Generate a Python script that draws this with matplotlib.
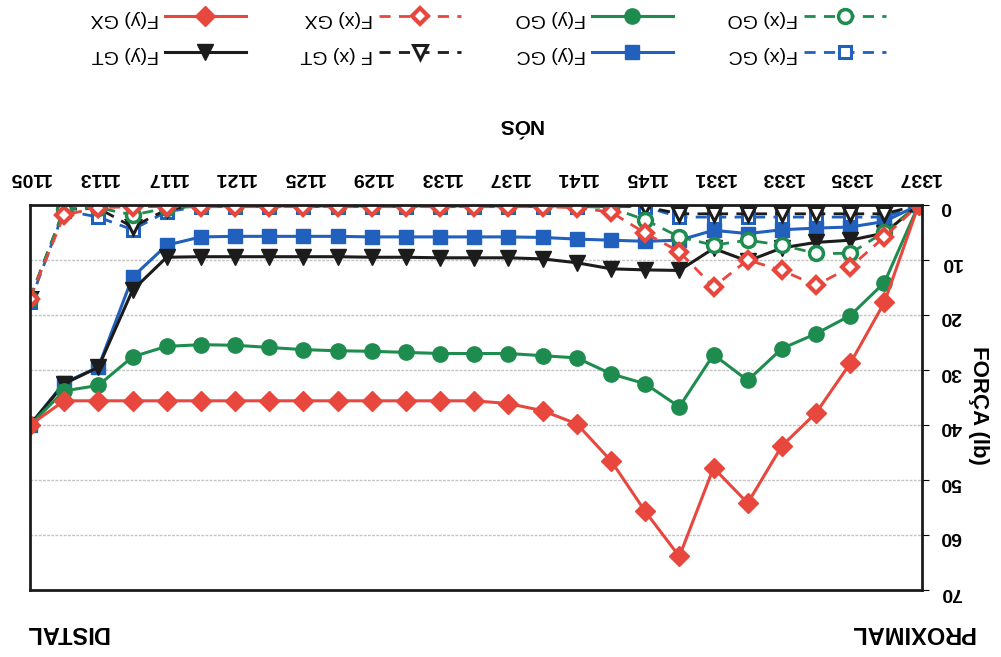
import numpy as np
import matplotlib
matplotlib.use("Agg")
import matplotlib.pyplot as plt

plt.rcParams['font.family'] = ['Liberation Sans', 'DejaVu Sans']

# nodes along the bar (only every other one is labelled)
nodes = ['1105', '1109', '1113', '1115', '1117', '1119', '1121', '1123', '1125',
         '1127', '1129', '1131', '1133', '1135', '1137', '1139', '1141', '1143',
         '1145', '1147', '1331', '1332', '1333', '1334', '1335', '1336', '1337']

fy_gx = [40, 35.6, 35.6, 35.6, 35.6, 35.6, 35.6, 35.6, 35.6, 35.6, 35.6, 35.6, 35.6,
         35.6, 36.1, 37.4, 39.8, 46.5, 55.7, 63.9, 47.8, 54.2, 43.8, 37.8, 28.8, 17.7, 0]
fx_gx = [17, 1.8, 0.5, 0.3, 0.3, 0.3, 0.3, 0.3, 0.3, 0.3, 0.3, 0.3, 0.3,
         0.3, 0.3, 0.3, 0.5, 1.3, 5.1, 8.5, 14.9, 10.0, 11.9, 14.6, 11.3, 5.8, 0]
fy_go = [40, 33.8, 32.8, 27.6, 25.7, 25.4, 25.5, 25.9, 26.3, 26.5, 26.6, 26.8, 27.0,
         27.0, 27.0, 27.4, 27.8, 30.7, 32.5, 36.7, 27.2, 31.9, 26.1, 23.4, 20.1, 14.1, 0]
fx_go = [17, 0.7, 0.5, 1.8, 0.6, 0.2, 0.2, 0.2, 0.2, 0.2, 0.2, 0.2, 0.2,
         0.2, 0.2, 0.2, 0.2, 0.5, 2.7, 5.8, 7.3, 6.4, 7.3, 8.8, 8.8, 4.9, 0]
fy_gc = [40, 32.3, 29.5, 13.1, 7.3, 5.8, 5.7, 5.7, 5.7, 5.7, 5.8, 5.8, 5.8,
         5.8, 5.8, 5.9, 6.2, 6.4, 6.6, 6.4, 4.6, 5.2, 4.5, 4.2, 4.0, 3.0, 0]
fx_gc = [17.7, 1.0, 2.2, 4.5, 1.2, 0.3, 0.3, 0.3, 0.3, 0.3, 0.3, 0.3, 0.3,
         0.3, 0.3, 0.3, 0.3, 0.3, 0.3, 2.2, 2.2, 2.2, 2.2, 2.2, 2.2, 2.2, 0]
fy_gt = [40, 32.5, 29.5, 15.5, 9.5, 9.4, 9.4, 9.4, 9.4, 9.4, 9.5, 9.5, 9.6,
         9.6, 9.6, 9.8, 10.5, 11.6, 11.8, 11.9, 7.9, 10.2, 7.8, 6.8, 6.4, 5.1, 0]
fx_gt = [17, 0.8, 0.6, 4.0, 0.8, 0, 0, 0, 0, 0, 0, 0, 0,
         0, 0, 0, 0, 0, 0.3, 1.6, 1.6, 1.6, 1.6, 1.6, 1.6, 1.6, 0]

RED = '#e8473d'
GREEN = '#1d8c4e'
BLUE = '#2160bd'
BLACK = '#1c1c1c'

x = np.arange(len(nodes))

fig = plt.figure(figsize=(10.01, 6.57), dpi=100)
ax = fig.add_axes([30 / 1001, 1 - 590 / 657, 892 / 1001, 385 / 657])

dash = (4, 3)
h = {}
h['fx_gc'], = ax.plot(x, fx_gc, color=BLUE, lw=2, dashes=dash, marker='s', ms=9,
                      mfc='white', mec=BLUE, mew=2.2, label='F(x) GC')
h['fy_gc'], = ax.plot(x, fy_gc, color=BLUE, lw=2.2, marker='s', ms=10,
                      mfc=BLUE, mec=BLUE, label='F(y) GC')
h['fx_gt'], = ax.plot(x, fx_gt, color=BLACK, lw=2, dashes=dash, marker='v', ms=10,
                      mfc='white', mec=BLACK, mew=2.2, label='F (x) GT')
h['fy_gt'], = ax.plot(x, fy_gt, color=BLACK, lw=2.2, marker='v', ms=11,
                      mfc=BLACK, mec=BLACK, label='F(y) GT')
h['fx_go'], = ax.plot(x, fx_go, color=GREEN, lw=2, dashes=dash, marker='o', ms=10,
                      mfc='white', mec=GREEN, mew=2.5, label='F(x) GO')
h['fy_go'], = ax.plot(x, fy_go, color=GREEN, lw=2.2, marker='o', ms=11,
                      mfc=GREEN, mec=GREEN, label='F(y) GO')
h['fx_gx'], = ax.plot(x, fx_gx, color=RED, lw=2, dashes=dash, marker='D', ms=8,
                      mfc='white', mec=RED, mew=3, label='F(x) GX')
h['fy_gx'], = ax.plot(x, fy_gx, color=RED, lw=2.2, marker='D', ms=10,
                      mfc=RED, mec=RED, label='F(y) GX')

ax.set_xlim(0, 26.1)
ax.set_ylim(70, 0)

# category axis on top, labels upside down
ax.xaxis.tick_top()
ax.set_xticks(x[::2])
ax.set_xticklabels(nodes[::2], rotation=180, fontsize=14, fontweight='bold')
ax.set_xticks(x, minor=True)
ax.tick_params(axis='x', which='both', direction='in', length=5, pad=14, color='#555555')

ax.yaxis.tick_right()
ax.set_yticks(np.arange(0, 71, 10))
ax.set_yticklabels([str(v) for v in range(0, 71, 10)], rotation=180,
                   fontsize=14, fontweight='bold')
ax.tick_params(axis='y', direction='out', length=5, pad=8)

ax.grid(axis='y', color='#c4c4c4', lw=1, ls=(0, (2, 1)))
for s in ax.spines.values():
    s.set_color(BLACK)
    s.set_linewidth(2)

ax.set_xlabel('NÓS', fontsize=15, fontweight='bold', rotation=180)
ax.xaxis.set_label_position('top')
ax.xaxis.set_label_coords((520 - 30) / 892, (590 - 130) / 385)

ax.set_ylabel('FORÇA (lb)', fontsize=16, fontweight='bold', rotation=270, va='center')
ax.yaxis.set_label_position('right')
ax.yaxis.set_label_coords((989 - 30) / 892, (590 - 405) / 385)

order = ['fy_gx', 'fy_gt', 'fx_gx', 'fx_gt', 'fy_go', 'fy_gc', 'fx_go', 'fx_gc']
leg = fig.legend([h[k] for k in order], [h[k].get_label() for k in order],
                 ncol=4, loc='center', bbox_to_anchor=(488 / 1001, 1 - 36 / 657),
                 frameon=False, markerfirst=False, fontsize=14,
                 handlelength=4.2, handletextpad=0.3, columnspacing=2.8,
                 labelspacing=0.95)
for t in leg.get_texts():
    t.set_rotation(180)

fig.text(912 / 1001, 1 - 632 / 657, 'PROXIMAL', rotation=180, fontsize=17,
         fontweight='bold', ha='center', va='center')
fig.text(67 / 1001, 1 - 632 / 657, 'DISTAL', rotation=180, fontsize=17,
         fontweight='bold', ha='center', va='center')

fig.savefig('out.png', dpi=100)
